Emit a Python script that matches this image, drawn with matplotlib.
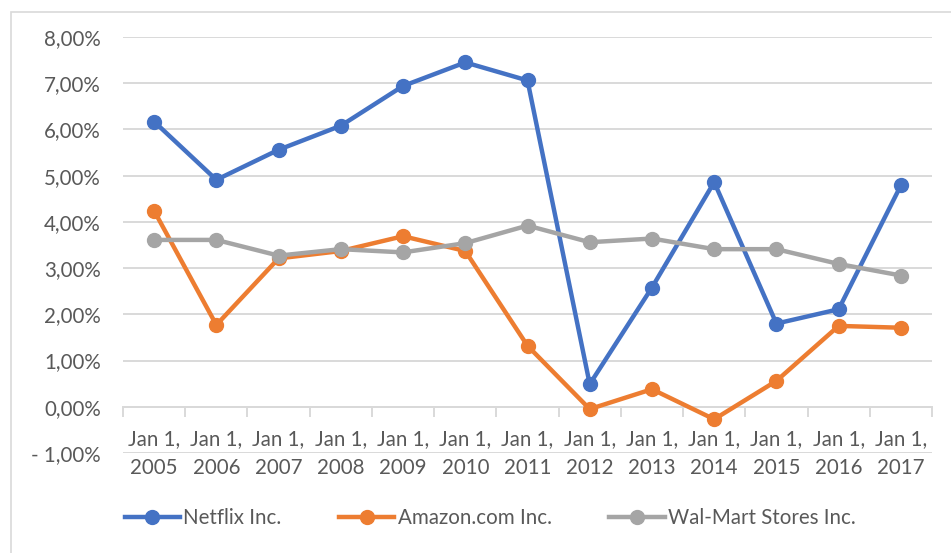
import matplotlib
matplotlib.use("Agg")
import matplotlib.pyplot as plt
from matplotlib.lines import Line2D
from matplotlib.patches import Rectangle
import numpy as np

plt.rcParams['font.family'] = ['Lato', 'DejaVu Sans']

years = ["2005", "2006", "2007", "2008", "2009", "2010", "2011",
         "2012", "2013", "2014", "2015", "2016", "2017"]
categories = ["Jan 1,\n" + y for y in years]
netflix = [6.17, 4.91, 5.56, 6.08, 6.94, 7.45, 7.06, 0.49, 2.58, 4.86, 1.80, 2.11, 4.79]
amazon = [4.24, 1.77, 3.21, 3.37, 3.69, 3.37, 1.32, -0.05, 0.38, -0.27, 0.56, 1.75, 1.71]
walmart = [3.61, 3.61, 3.27, 3.41, 3.34, 3.54, 3.92, 3.56, 3.64, 3.41, 3.41, 3.09, 2.84]
series_names = ["Netflix Inc.", "Amazon.com Inc.", "Wal-Mart Stores Inc."]
colors = ["#4472C4", "#ED7D31", "#A5A5A5"]
yticks = [-1, 0, 1, 2, 3, 4, 5, 6, 7, 8]
ytick_labels = ["- 1,00%", "0,00%", "1,00%", "2,00%", "3,00%", "4,00%",
                "5,00%", "6,00%", "7,00%", "8,00%"]

W, H = 951, 553
fig = plt.figure(figsize=(W / 100, H / 100), dpi=100)
fig.patch.set_facecolor("white")

# outer chart border
fig.patches.append(Rectangle((11 / W, -0.05), 1.1, 1 - 12 / H + 0.05,
                             transform=fig.transFigure, fill=False,
                             edgecolor="#D9D9D9", linewidth=1.2))

ax = fig.add_axes([123 / W, 1 - 453 / H, (932 - 123) / W, (453 - 37) / H])
x = np.arange(len(categories))

text_color = "#595959"
fs = 14.8
for vals, c, name in zip([netflix, amazon, walmart], colors, series_names):
    ax.plot(x, vals, color=c, linewidth=3.2, marker="o", markersize=10,
            solid_capstyle="round", solid_joinstyle="round", label=name, zorder=3)

ax.set_xlim(-0.5, len(categories) - 0.5)
ax.set_ylim(-1, 8)
ax.set_yticks(yticks)
ax.set_yticklabels(ytick_labels, fontsize=fs, color=text_color)
ax.grid(axis="y", color="#D9D9D9", linewidth=1.4, zorder=0)
ax.set_axisbelow(True)

for s in ["top", "right", "left"]:
    ax.spines[s].set_visible(False)
ax.spines["bottom"].set_position(("data", 0))
ax.spines["bottom"].set_color("#D9D9D9")
ax.spines["bottom"].set_linewidth(1.4)

ax.set_xticks(x)
ax.set_xticklabels(categories, fontsize=fs, color=text_color, linespacing=1.55)
ax.set_xticks(np.arange(-0.5, len(categories), 1.0), minor=True)
ax.tick_params(axis="x", which="major", length=0, pad=16)
ax.tick_params(axis="x", which="minor", length=7, width=1.4, color="#D9D9D9")
ax.tick_params(axis="y", length=0, pad=16)

handles = [Line2D([0], [0], color=c, linewidth=3.2, marker="o", markersize=10)
           for c in colors]
fig.legend(handles, series_names, loc="center", bbox_to_anchor=(490 / W, 1 - 518 / H),
           ncol=3, frameon=False, fontsize=fs, handlelength=2.7,
           columnspacing=2.8, handletextpad=0.15, labelcolor=text_color)

fig.savefig("out.png", dpi=100, facecolor="white")
